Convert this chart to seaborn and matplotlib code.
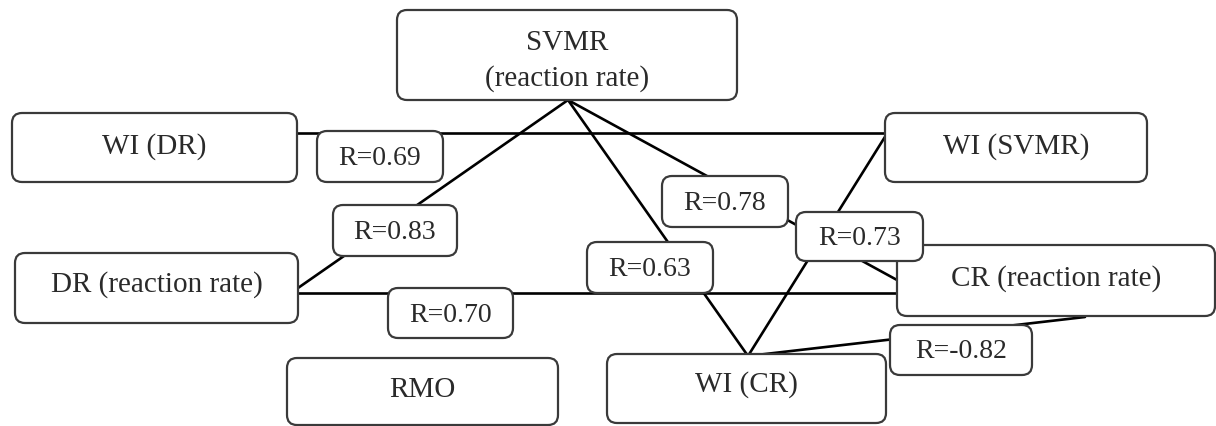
import pandas as pd
import matplotlib
matplotlib.use("Agg")
import matplotlib.pyplot as plt
from matplotlib.patches import FancyBboxPatch
import seaborn as sns

# node labels of the diagram
node_keys = ["svmr", "wi_dr", "wi_svmr", "dr", "cr", "rmo", "wi_cr"]
node_labels = ["SVMR\n(reaction rate)", "WI (DR)", "WI (SVMR)", "DR (reaction rate)",
               "CR (reaction rate)", "RMO", "WI (CR)"]

# correlations between nodes
edge_from = ["wi_dr", "dr", "svmr", "svmr", "dr", "wi_cr", "wi_cr"]
edge_to = ["wi_svmr", "svmr", "cr", "wi_cr", "cr", "wi_svmr", "cr"]
r_values = [0.69, 0.83, 0.78, 0.63, 0.70, 0.73, -0.82]

# layout (pixel space, y down)
node_boxes = {
    "svmr": (397, 10, 737, 100),
    "wi_dr": (12, 113, 297, 182),
    "wi_svmr": (885, 113, 1147, 182),
    "dr": (15, 253, 298, 323),
    "cr": (897, 245, 1215, 316),
    "rmo": (287, 358, 558, 425),
    "wi_cr": (607, 354, 886, 423),
}
node_text_y = {"svmr": 61, "wi_dr": 147, "wi_svmr": 147, "dr": 285,
               "cr": 279, "rmo": 390, "wi_cr": 385}
label_boxes = [
    (317, 131, 443, 182),
    (333, 205, 457, 256),
    (662, 176, 788, 227),
    (587, 242, 713, 293),
    (388, 288, 513, 338),
    (796, 212, 923, 261),
    (890, 325, 1032, 375),
]
# where each edge leaves / enters its boxes
edge_ends = [
    ((297, 133), (888, 133)),
    ((298, 288), (568, 100)),
    ((568, 100), (897, 280)),
    ((568, 100), (748, 356)),
    ((298, 293), (897, 293)),
    ((748, 356), (888, 132)),
    ((748, 356), (1085, 317)),
]

sns.set_theme(style="white")
plt.rcParams["font.family"] = ["Liberation Serif", "DejaVu Serif"]

fig = plt.figure(figsize=(12.16, 4.26), dpi=100)
ax = fig.add_axes([0, 0, 1, 1])

# edges as line segments
rows = []
for i, (a, b) in enumerate(edge_ends):
    rows.append({"edge": f"{edge_from[i]}-{edge_to[i]}", "x": a[0], "y": a[1]})
    rows.append({"edge": f"{edge_from[i]}-{edge_to[i]}", "x": b[0], "y": b[1]})
edges = pd.DataFrame(rows)
sns.lineplot(data=edges, x="x", y="y", units="edge", estimator=None, sort=False,
             color="black", lw=1.9, ax=ax, zorder=2)


def draw_box(box, text, z, fs=21, ty=None):
    x0, y0, x1, y1 = box
    patch = FancyBboxPatch((x0, y0), x1 - x0, y1 - y0,
                           boxstyle="round,pad=0,rounding_size=10",
                           fc="white", ec="#3a3a3a", lw=1.6, zorder=z)
    ax.add_patch(patch)
    if ty is None:
        ty = (y0 + y1) / 2 + 2
    ax.text((x0 + x1) / 2, ty, text, ha="center", va="center",
            fontsize=fs, color="#2a2a2a", zorder=z + 0.5, linespacing=1.4)


for key, label in zip(node_keys, node_labels):
    draw_box(node_boxes[key], label, 3, ty=node_text_y[key])

for box, r in zip(label_boxes, r_values):
    draw_box(box, f"R={r:.2f}", 5, fs=20)

ax.set_xlim(0, 1216)
ax.set_ylim(426, 0)
ax.axis("off")

fig.savefig("out.png", dpi=100)
